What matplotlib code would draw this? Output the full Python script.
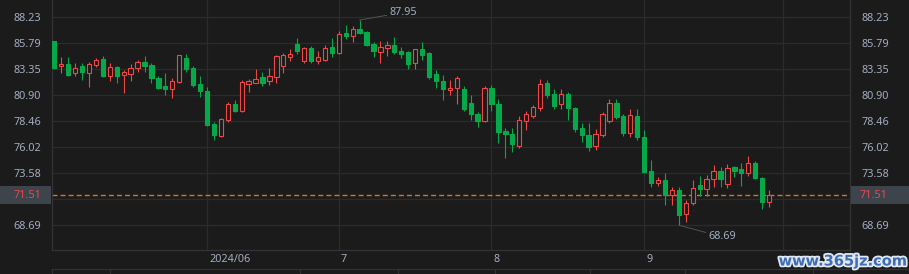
"""Daily candlestick chart, May - Sep 2024, dark theme."""

import matplotlib

matplotlib.use("Agg")
import matplotlib.patheffects as pe
import matplotlib.pyplot as plt
import matplotlib.transforms as mtransforms
import numpy as np
from matplotlib.lines import Line2D
from matplotlib.patches import Rectangle


OPEN = [
    85.98, 83.61, 83.83, 82.97, 83.63, 82.97, 83.76, 84.26, 82.72, 83.51,
    82.76, 82.91, 83.41, 83.98, 83.69, 82.47, 81.75, 81.46, 82.16, 84.38,
    83.44, 81.94, 81.28, 78.19, 77.09, 78.56, 80.07, 79.44, 81.91, 82.06,
    82.60, 82.20, 82.63, 83.66, 84.51, 85.70, 84.13, 85.32, 84.13, 84.20,
    85.42, 84.83, 86.73, 86.48, 87.11, 86.82, 85.73, 84.95, 85.35, 85.60,
    85.04, 84.93, 83.89, 85.23, 84.83, 82.88, 82.22, 81.35, 81.54, 81.47,
    80.16, 79.13, 78.50, 81.54, 80.07, 77.53, 77.25, 76.15, 78.50, 78.97,
    79.66, 82.01, 80.98, 80.04, 80.98, 79.66, 77.78, 77.15, 76.15, 77.12,
    78.50, 80.13, 78.94, 77.37, 78.94, 77.00, 73.77, 72.62, 72.93, 71.52,
    71.99, 69.73, 70.74, 72.46, 72.05, 73.00, 73.77, 72.52, 74.12, 73.96,
    73.56, 74.49, 73.09, 70.89,
]
HIGH = [
    86.00, 84.48, 84.48, 83.89, 83.89, 83.98, 84.38, 84.57, 83.89, 83.63,
    83.23, 83.82, 84.20, 84.57, 83.89, 82.70, 82.97, 82.51, 84.64, 84.76,
    83.63, 82.70, 81.63, 78.37, 78.75, 80.25, 80.44, 82.32, 82.41, 83.32,
    83.07, 83.44, 84.67, 84.83, 85.23, 86.26, 85.42, 85.51, 85.04, 85.58,
    86.26, 86.89, 87.48, 87.39, 87.95, 86.89, 85.89, 85.98, 85.98, 86.35,
    85.42, 85.04, 85.26, 85.89, 84.92, 83.26, 82.76, 82.32, 82.69, 81.75,
    80.91, 79.34, 81.75, 81.85, 80.53, 77.78, 77.78, 78.94, 79.41, 79.97,
    82.41, 82.32, 81.47, 81.47, 81.16, 79.81, 78.28, 78.28, 77.69, 79.29,
    80.53, 80.53, 79.13, 79.60, 79.60, 77.62, 74.81, 73.18, 73.56, 72.30,
    72.30, 71.05, 72.93, 73.30, 73.40, 74.34, 74.12, 74.43, 74.24, 74.55,
    75.18, 74.74, 73.18, 71.99,
]
LOW = [
    83.33, 82.97, 82.70, 82.70, 82.32, 81.69, 83.51, 82.63, 82.25, 82.06,
    81.07, 82.25, 83.10, 83.10, 82.06, 81.50, 80.90, 80.66, 82.01, 83.07,
    81.69, 80.75, 78.00, 76.68, 76.97, 78.40, 79.34, 79.31, 81.22, 82.01,
    81.78, 81.82, 82.06, 82.97, 84.10, 84.76, 83.89, 83.94, 83.79, 84.10,
    84.51, 84.76, 86.20, 85.89, 86.67, 85.54, 84.51, 83.94, 84.60, 84.76,
    84.41, 83.36, 83.38, 84.22, 82.41, 81.59, 80.44, 80.91, 80.07, 79.44,
    78.59, 77.90, 78.41, 79.41, 76.43, 75.02, 75.59, 75.96, 77.62, 78.78,
    79.44, 80.60, 79.60, 79.60, 78.56, 77.46, 76.52, 75.65, 75.74, 76.94,
    78.31, 78.63, 77.09, 77.00, 76.68, 73.61, 72.30, 72.36, 70.58, 70.58,
    68.69, 69.01, 70.58, 71.45, 71.45, 72.24, 72.30, 72.15, 73.24, 72.36,
    73.30, 73.03, 70.20, 70.42,
]
CLOSE = [
    83.48, 83.83, 82.79, 83.48, 83.07, 83.80, 84.17, 82.70, 83.51, 82.72,
    83.04, 83.41, 83.98, 83.66, 82.53, 81.59, 81.46, 82.22, 84.64, 83.38,
    81.88, 81.28, 78.09, 77.15, 78.63, 80.07, 79.41, 82.13, 82.22, 82.38,
    82.04, 82.66, 84.57, 84.64, 84.76, 85.07, 85.32, 84.07, 84.45, 85.30,
    84.83, 86.64, 86.45, 87.08, 86.73, 85.63, 85.04, 85.42, 85.60, 84.95,
    84.76, 83.80, 85.20, 84.67, 82.60, 82.22, 81.47, 81.59, 82.48, 79.60,
    79.13, 78.50, 81.54, 80.09, 77.43, 77.27, 76.31, 78.53, 79.10, 79.78,
    81.91, 80.91, 79.91, 80.98, 79.66, 77.72, 77.15, 76.05, 77.22, 79.10,
    80.13, 78.87, 77.37, 79.03, 77.00, 73.71, 72.67, 72.93, 71.52, 71.99,
    69.64, 70.74, 72.15, 72.08, 73.00, 73.77, 73.00, 74.03, 73.80, 73.56,
    74.49, 73.09, 70.89, 71.51,
]

# first trading day of each month (bar index) and its axis label
MONTH_START = [22, 41, 63, 85, 105]
MONTH_LABEL = ["2024/06", "7", "8", "9", ""]
PRICE_TICKS = [88.23, 85.79, 83.35, 80.90, 78.46, 76.02, 73.58, 71.14, 68.69]
LAST_PRICE = 71.51
PERIOD_HIGH = 87.95
PERIOD_LOW = 68.69

BG = "#1b1b1b"
GRID = "#2b2b2b"
LINE = "#333333"
TEXT = "#a3adc0"
UP = "#f04646"
DOWN = "#07a84a"
LAST = "#d9722a"

W, H = 909, 274


def main() -> None:
    plt.rcParams["font.family"] = ["Noto Sans", "DejaVu Sans"]
    fig = plt.figure(figsize=(W / 100, H / 100), dpi=100, facecolor=BG)
    ax = fig.add_axes([52 / W, 24 / H, 798 / W, 250 / H], facecolor=BG)
    ax.set_xlim(-0.33, 114.66)
    ax.set_ylim(66.36, 89.83)

    draw_candles(ax)
    style_axes(fig, ax)
    draw_last_price(fig, ax)
    draw_extremes(ax)

    # navigator strip under the date labels
    fig.add_artist(Line2D([52 / W, 1.0], [5 / H, 5 / H], color=LINE, lw=0.8))
    for px in (52, 110, 300, 398, 495, 590, 685, 813):
        fig.add_artist(Line2D([px / W, px / W], [0, 5 / H], color=LINE, lw=0.8))

    fig.text(
        843 / W, 13 / H, "www.365jz.com", ha="center", va="center",
        fontsize=10.5, fontweight="bold", color="#3f6cb4", family="DejaVu Sans",
        path_effects=[pe.withStroke(linewidth=2.6, foreground="#dfe8f3")],
    )
    fig.savefig("out.png", dpi=100, facecolor=BG)
    plt.close(fig)


def draw_candles(ax) -> None:
    o, h, l, c = (np.asarray(v) for v in (OPEN, HIGH, LOW, CLOSE))
    x = np.arange(len(c))
    up = c >= o
    ax.vlines(x, l, h, colors=np.where(up, UP, DOWN), lw=0.8, zorder=3)
    for xi, oi, ci, is_up in zip(x, o, c, up):
        lo, hi = min(oi, ci), max(oi, ci)
        ax.add_patch(
            Rectangle(
                (xi - 0.31, lo), 0.62, max(hi - lo, 0.04),
                facecolor=BG if is_up else DOWN,
                edgecolor=UP if is_up else DOWN,
                lw=0.8, zorder=4,
            )
        )


def style_axes(fig, ax) -> None:
    ax.set_yticks(PRICE_TICKS, [f"{v:.2f}" if v != 71.14 else "" for v in PRICE_TICKS])
    ax.set_xticks(MONTH_START, MONTH_LABEL)
    ax.tick_params(axis="y", length=0, pad=8, labelsize=7.8, labelcolor=TEXT,
                   labelleft=True, labelright=True)
    ax.tick_params(axis="x", length=0, pad=3, labelsize=7.8, labelcolor=TEXT)
    shift = mtransforms.ScaledTranslation(2 / 100, 0, fig.dpi_scale_trans)
    for lab in ax.get_xticklabels():
        lab.set_horizontalalignment("left")
        lab.set_transform(lab.get_transform() + shift)
    ax.grid(True, color=GRID, lw=0.9, zorder=0)
    ax.set_axisbelow(True)
    ax.spines["top"].set_visible(False)
    for side in ("left", "right", "bottom"):
        ax.spines[side].set_color(LINE)
        ax.spines[side].set_linewidth(0.9)


def draw_last_price(fig, ax) -> None:
    ax.axhline(LAST_PRICE, color=LAST, lw=1.0, dashes=(3.6, 2.2), zorder=2)
    tr = mtransforms.blended_transform_factory(fig.transFigure, ax.transData)
    half = 0.85
    for x0, x1 in ((0, 51 / W), (851 / W, 1.0)):
        fig.add_artist(Rectangle((x0, LAST_PRICE - half), x1 - x0, 2 * half,
                                 transform=tr, facecolor="#3d444b", edgecolor="none"))
    label = f"{LAST_PRICE:.2f}"
    fig.text(41.5 / W, LAST_PRICE, label, transform=tr, ha="right", va="center",
             fontsize=7.8, color="#ea4a4a")
    fig.text(860 / W, LAST_PRICE, label, transform=tr, ha="left", va="center",
             fontsize=7.8, color="#ea4a4a")


def draw_extremes(ax) -> None:
    hi_idx = int(np.argmax(HIGH))
    lo_idx = int(np.argmin(LOW))
    line = dict(arrowstyle="-", color="#5a5a5a", lw=0.6, shrinkA=0, shrinkB=0)
    ax.annotate(f"{PERIOD_HIGH:.2f}", xy=(hi_idx, PERIOD_HIGH), xytext=(21.5, 5.5),
                textcoords="offset points", ha="left", va="center",
                fontsize=7.8, color=TEXT, arrowprops=line, zorder=5)
    ax.annotate(f"{PERIOD_LOW:.2f}", xy=(lo_idx, PERIOD_LOW), xytext=(21.5, -8.5),
                textcoords="offset points", ha="left", va="center",
                fontsize=7.8, color=TEXT, arrowprops=line, zorder=5)


if __name__ == "__main__":
    main()
